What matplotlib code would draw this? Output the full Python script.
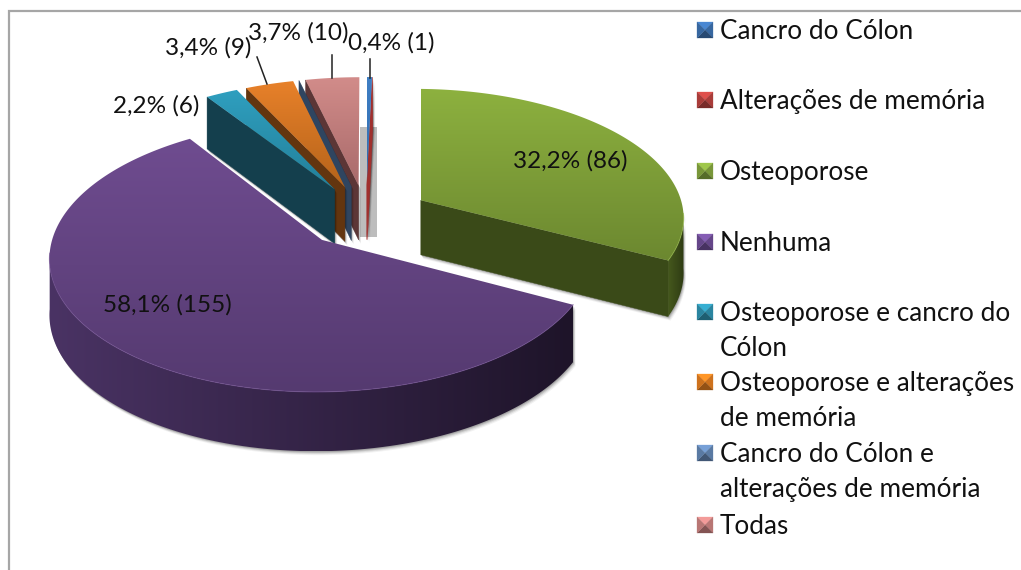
import numpy as np
import matplotlib
matplotlib.use("Agg")
import matplotlib.pyplot as plt
from matplotlib.colors import LinearSegmentedColormap
from matplotlib.patches import Polygon, Rectangle

plt.rcParams['font.family'] = ['Lato', 'DejaVu Sans']

labels = ["Cancro do Cólon", "Alterações de memória", "Osteoporose", "Nenhuma",
          "Osteoporose e cancro do\nCólon", "Osteoporose e alterações\nde memória",
          "Cancro do Cólon e\nalterações de memória", "Todas"]
counts = [1, 0, 86, 155, 6, 9, 0, 10]

# top start, top end, wall, rim left, rim right
top_a = ["#3F7FC4", "#C0504D", "#8DB13F", "#6F4C90", "#2F9FBF", "#E8812A", "#3E5A7E", "#D28C8A"]
top_b = ["#2F6BAE", "#A83C3A", "#6C8830", "#553A70", "#23809A", "#B5631A", "#34496A", "#A86A6A"]
wall = ["#A0302E", "#A0302E", "#3A4A18", "#3A2850", "#143F4D", "#63350F", "#2F4560", "#5C3636"]
rim_l = ["#2F5F98", "#8A2A28", "#46591D", "#4A3364", "#1A5060", "#7A4212", "#2F4560", "#6A4040"]
rim_r = ["#2F5F98", "#8A2A28", "#2E3B13", "#1E1429", "#143F4D", "#63350F", "#2F4560", "#5C3636"]
# legend swatches
sw_base = ["#3A6CA8", "#B23F3C", "#7F9F3C", "#6A4A90", "#2C8CA8", "#D9781F", "#5F80AC", "#C27C7A"]

# projection of the tilted pie
OX, OY = 366, 216
A_X, B_Y = 264, 128
K = 0.118
EXPLODE = 0.245
DEPTH = 55
START = 0.0

fig = plt.figure(figsize=(10.21, 5.70), dpi=100)
ax = fig.add_axes([0, 0, 1, 1])
ax.set_xlim(0, 1021)
ax.set_ylim(570, 0)
ax.axis("off")

z = [2]


def next_z():
    z[0] += 1
    return z[0]


def project(theta, r, phi):
    # theta clockwise from the far side, phi = direction of the explosion
    u = r * np.sin(theta) + EXPLODE * np.sin(phi)
    v = r * np.cos(theta) + EXPLODE * np.cos(phi)
    w = 1 + K * v
    return OX + A_X * u / w, OY - B_Y * v / w, DEPTH / np.sqrt(w)


def grad_fill(pts, c1, c2, horizontal=False):
    cmap = LinearSegmentedColormap.from_list("g", [c1, c2])
    zz = next_z()
    poly = Polygon(pts, closed=True, facecolor="none", edgecolor="none", zorder=zz)
    ax.add_patch(poly)
    x0, y0 = pts.min(axis=0)
    x1, y1 = pts.max(axis=0)
    g = np.linspace(0, 1, 256)
    g = g.reshape(1, -1) if horizontal else g.reshape(-1, 1)
    im = ax.imshow(g, cmap=cmap, extent=[x0, x1, y1, y0], aspect="auto", zorder=zz,
                   interpolation="bilinear")
    im.set_clip_path(poly)


def shadow(pts):
    for off, al in [(4, 0.05), (3, 0.08), (2, 0.12), (1, 0.15)]:
        ax.add_patch(Polygon(pts + np.array([off * 0.6, off]), closed=True, facecolor="black",
                             edgecolor="none", alpha=al, zorder=next_z()))


def radial_wall(t, phi, color):
    x0, y0, d0 = project(t, 0, phi)
    x1, y1, d1 = project(t, 1, phi)
    pts = np.array([[x0, y0], [x1, y1], [x1, y1 + d1], [x0, y0 + d0]])
    return pts, color


def draw_slice(i, t1, t2):
    phi = (t1 + t2) / 2
    ts = np.linspace(t1, t2, max(int(np.degrees(t2 - t1)) * 2, 2))
    x, y, d = project(ts, 1, phi)
    ax_, ay_, ad_ = project(t1, 0, phi)
    top = np.vstack([[ax_, ay_], np.column_stack([x, y])])

    walls = []
    if t2 > t1:
        if np.sin(t1) < 0:
            walls.append(radial_wall(t1, phi, wall[i]))
        if np.sin(t2) > 0:
            walls.append(radial_wall(t2, phi, wall[i]))
    else:
        walls.append(radial_wall(t1, phi, wall[i]))

    vis = np.cos(ts) < -K + 0.02
    rim = None
    if vis.sum() > 1:
        rim = np.vstack([np.column_stack([x[vis], y[vis]]),
                         np.column_stack([x[vis], y[vis] + d[vis]])[::-1]])
        shadow(rim)
    for pts, _ in walls:
        shadow(pts)
    if rim is not None:
        grad_fill(rim, rim_l[i], rim_r[i], horizontal=True)
    for pts, c in walls:
        ax.add_patch(Polygon(pts, closed=True, facecolor=c, edgecolor=c, lw=0.3, zorder=next_z()))
    if t2 > t1:
        grad_fill(top, top_a[i], top_b[i])
    if rim is not None:
        ax.plot(x[vis], y[vis], color=top_a[i], lw=0.8, alpha=0.6, zorder=next_z())


# slice angles from the counts
fracs = np.array(counts) / sum(counts)
edges = np.radians(START) + np.concatenate([[0], np.cumsum(fracs)]) * 2 * np.pi

# grey shadow behind the narrow slices
ax.add_patch(Rectangle((360, 127), 17, 110, facecolor="#BDBDBD", edgecolor="none", zorder=next_z()))

for i in [7, 6, 5, 4, 0, 1, 2, 3]:
    draw_slice(i, edges[i], edges[i + 1])

# chart border
ax.plot([9, 9, 1021], [570, 11, 11], color="#A6A6A6", lw=1.6, zorder=next_z(), solid_joinstyle="miter")


# data labels
def pct_text(n):
    return f"{100 * n / sum(counts):.1f}".replace(".", ",") + f"% ({n})"


label_xy = {0: (391, 43), 2: (570, 161), 3: (167, 305), 4: (156, 106), 5: (208, 48), 7: (298, 33)}
for i, (lx, ly) in label_xy.items():
    ax.text(lx, ly, pct_text(counts[i]), ha="center", va="center", fontsize=17.5,
            color="#111111", zorder=next_z())

for (x0, y0, x1, y1) in [(257, 57, 267, 84), (332, 55, 332, 78), (370, 59, 370, 78)]:
    ax.plot([x0, x1], [y0, y1], color="#222222", lw=1.1, zorder=next_z())

# legend
leg_y = [30, 100, 171, 242, 312, 382, 453, 525]
for i, name in enumerate(labels):
    yc = leg_y[i]
    x0, x1, y0, y1 = 697, 713, yc - 8, yc + 8
    mx, my = (x0 + x1) / 2, (y0 + y1) / 2
    base = np.array(matplotlib.colors.to_rgb(sw_base[i]))
    # bevelled square, lit from the top
    shades = [np.clip(base * 1.25, 0, 1), base * 0.95, base * 0.68, base * 0.95]
    corners = [[(x0, y0), (x1, y0)], [(x1, y0), (x1, y1)], [(x1, y1), (x0, y1)], [(x0, y1), (x0, y0)]]
    zz = next_z()
    for c, s in zip(corners, shades):
        ax.add_patch(Polygon([c[0], c[1], (mx, my)], closed=True, facecolor=s, edgecolor=s,
                             lw=0.2, zorder=zz))
    ax.text(720, yc - 11, name, ha="left", va="top", fontsize=18.8, color="#111111",
            linespacing=1.5, zorder=zz)

fig.savefig("out.png", dpi=100)
